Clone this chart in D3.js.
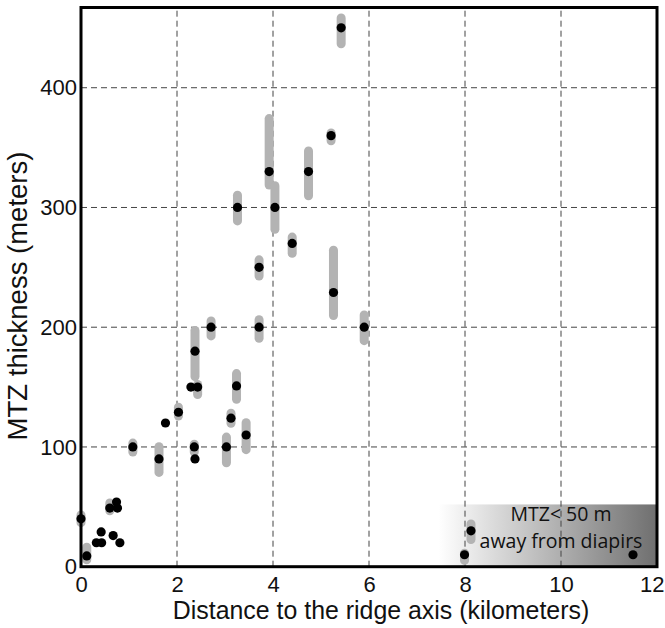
<!DOCTYPE html>
<html>
<head>
<meta charset="utf-8">
<script src="https://cdn.jsdelivr.net/npm/d3@7"></script>
<style>
  body { margin: 0; background: #fff; }
  svg { display: block; }
  .tick text { font-family: "Liberation Sans", Arial, sans-serif; fill: #111; }
</style>
</head>
<body>
<div id="chart"></div>
<script>
// Data
const distKm  = [0, 0.12, 0.32, 0.43, 0.42, 0.67, 0.81, 0.6, 0.76, 0.74,
                 1.08, 1.625, 1.76, 2.03, 2.29, 2.43, 2.375, 2.36, 2.375, 2.71,
                 3.03, 3.125, 3.24, 3.44, 3.71, 3.71, 3.26, 3.92, 4.04, 4.4,
                 4.74, 5.21, 5.42, 5.26, 5.9, 8.125, 7.99, 11.5];
const thickM  = [40, 9, 20, 20, 29, 26, 20, 49, 49, 54,
                 100, 90, 120, 129, 150, 150, 180, 100, 90, 200,
                 100, 124, 151, 110, 200, 250, 300, 330, 300, 270,
                 330, 360, 450, 229, 200, 30, 10, 10];
// ranges (grey bars); null = no bar
const rangeLo = [33, 2, null, null, null, null, null, 43, null, null,
                 92, 75, null, 122, null, 140, 155, 92, null, 189,
                 83, 116, 136, 94, 187, 239, 285, 315, 278, 258,
                 306, 352, 433, 206, 185, 19, 1.5, null];
const rangeHi = [47, 20, null, null, null, null, null, 57, null, null,
                 107, 104, null, 137, null, 156, 201, 106, null, 209,
                 112, 132, 165, 124, 210, 260, 314, 378, 322, 279,
                 351, 366, 462, 268, 214, 39.5, 15, null];

const xTicks = [0, 2, 4, 6, 8, 10, 12];
const yTicks = [0, 100, 200, 300, 400];
const noteLines = ["MTZ< 50 m", "away from diapirs"];

const width = 665, height = 628;
const margin = {top: 7.5, right: 8, bottom: 61.3, left: 81};

const x = d3.scaleLinear().domain([0, 12]).range([margin.left, width - margin.right]);
const y = d3.scaleLinear().domain([0, 467]).range([height - margin.bottom, margin.top]);

const svg = d3.select("#chart").append("svg")
              .attr("width", width)
              .attr("height", height);

// gradient box in lower right
const grad = svg.append("defs").append("linearGradient")
                .attr("id", "boxgrad")
                .attr("x1", "0%").attr("x2", "100%").attr("y1", "0%").attr("y2", "0%");
grad.append("stop").attr("offset", "0%").attr("stop-color", "#ffffff");
grad.append("stop").attr("offset", "100%").attr("stop-color", "#6f6f6f");

svg.append("rect")
   .attr("x", x(7.45))
   .attr("y", y(52))
   .attr("width", x(12) - x(7.45))
   .attr("height", y(0) - y(52))
   .attr("fill", "url(#boxgrad)");

// grid
svg.append("g").selectAll("line")
   .data(xTicks.filter(d => d > 0 && d < 12))
   .enter().append("line")
   .attr("x1", d => x(d)).attr("x2", d => x(d))
   .attr("y1", y(0)).attr("y2", margin.top)
   .attr("stroke", "#444").attr("stroke-width", 1)
   .attr("stroke-dasharray", "6,4");

svg.append("g").selectAll("line")
   .data(yTicks.filter(d => d > 0))
   .enter().append("line")
   .attr("x1", x(0)).attr("x2", x(12))
   .attr("y1", d => y(d)).attr("y2", d => y(d))
   .attr("stroke", "#444").attr("stroke-width", 1)
   .attr("stroke-dasharray", "6,4");

// grey range bars
const pts = distKm.map((d, i) => ({x: d, y: thickM[i], lo: rangeLo[i], hi: rangeHi[i]}));
const barW = 9;
svg.append("g").selectAll("rect")
   .data(pts.filter(d => d.lo !== null))
   .enter().append("rect")
   .attr("x", d => x(d.x) - barW / 2)
   .attr("y", d => y(d.hi))
   .attr("width", barW)
   .attr("height", d => y(d.lo) - y(d.hi))
   .attr("rx", barW / 2)
   .attr("fill", "#b3b3b3");

// points
svg.append("g").selectAll("circle")
   .data(pts)
   .enter().append("circle")
   .attr("cx", d => x(d.x))
   .attr("cy", d => y(d.y))
   .attr("r", 4.6)
   .attr("fill", "#000");

// frame
svg.append("rect")
   .attr("x", x(0)).attr("y", margin.top)
   .attr("width", x(12) - x(0)).attr("height", y(0) - margin.top)
   .attr("fill", "none").attr("stroke", "#000").attr("stroke-width", 3);

// axes
const xAxis = svg.append("g")
   .attr("transform", "translate(0," + y(0) + ")")
   .call(d3.axisBottom(x).tickValues(xTicks).tickSize(0).tickPadding(10))
   .attr("font-size", "22px");
xAxis.select(".domain").remove();
// keep the last label inside the picture
xAxis.selectAll(".tick text").filter(d => d === 12)
     .attr("text-anchor", "end").attr("x", 7);

const yAxis = svg.append("g")
   .attr("transform", "translate(" + x(0) + ",0)")
   .call(d3.axisLeft(y).tickValues(yTicks).tickSize(0).tickPadding(4))
   .attr("font-size", "22px");
yAxis.select(".domain").remove();

// axis titles
svg.append("text")
   .attr("x", 381)
   .attr("y", 619)
   .attr("text-anchor", "middle")
   .attr("font-family", "Liberation Sans, Arial, sans-serif")
   .attr("font-size", "24.9px")
   .attr("fill", "#111")
   .text("Distance to the ridge axis (kilometers)");

svg.append("text")
   .attr("transform", "translate(27," + 296 + ") rotate(-90)")
   .attr("text-anchor", "middle")
   .attr("font-family", "Liberation Sans, Arial, sans-serif")
   .attr("font-size", "27.5px")
   .attr("fill", "#111")
   .text("MTZ thickness (meters)");

// note in box
svg.append("g").selectAll("text")
   .data(noteLines)
   .enter().append("text")
   .attr("x", 561)
   .attr("y", (d, i) => 521 + i * 27)
   .attr("text-anchor", "middle")
   .attr("font-family", "Open Sans, sans-serif")
   .attr("font-size", "19.5px")
   .attr("fill", "#111")
   .text(d => d);
</script>
</body>
</html>
